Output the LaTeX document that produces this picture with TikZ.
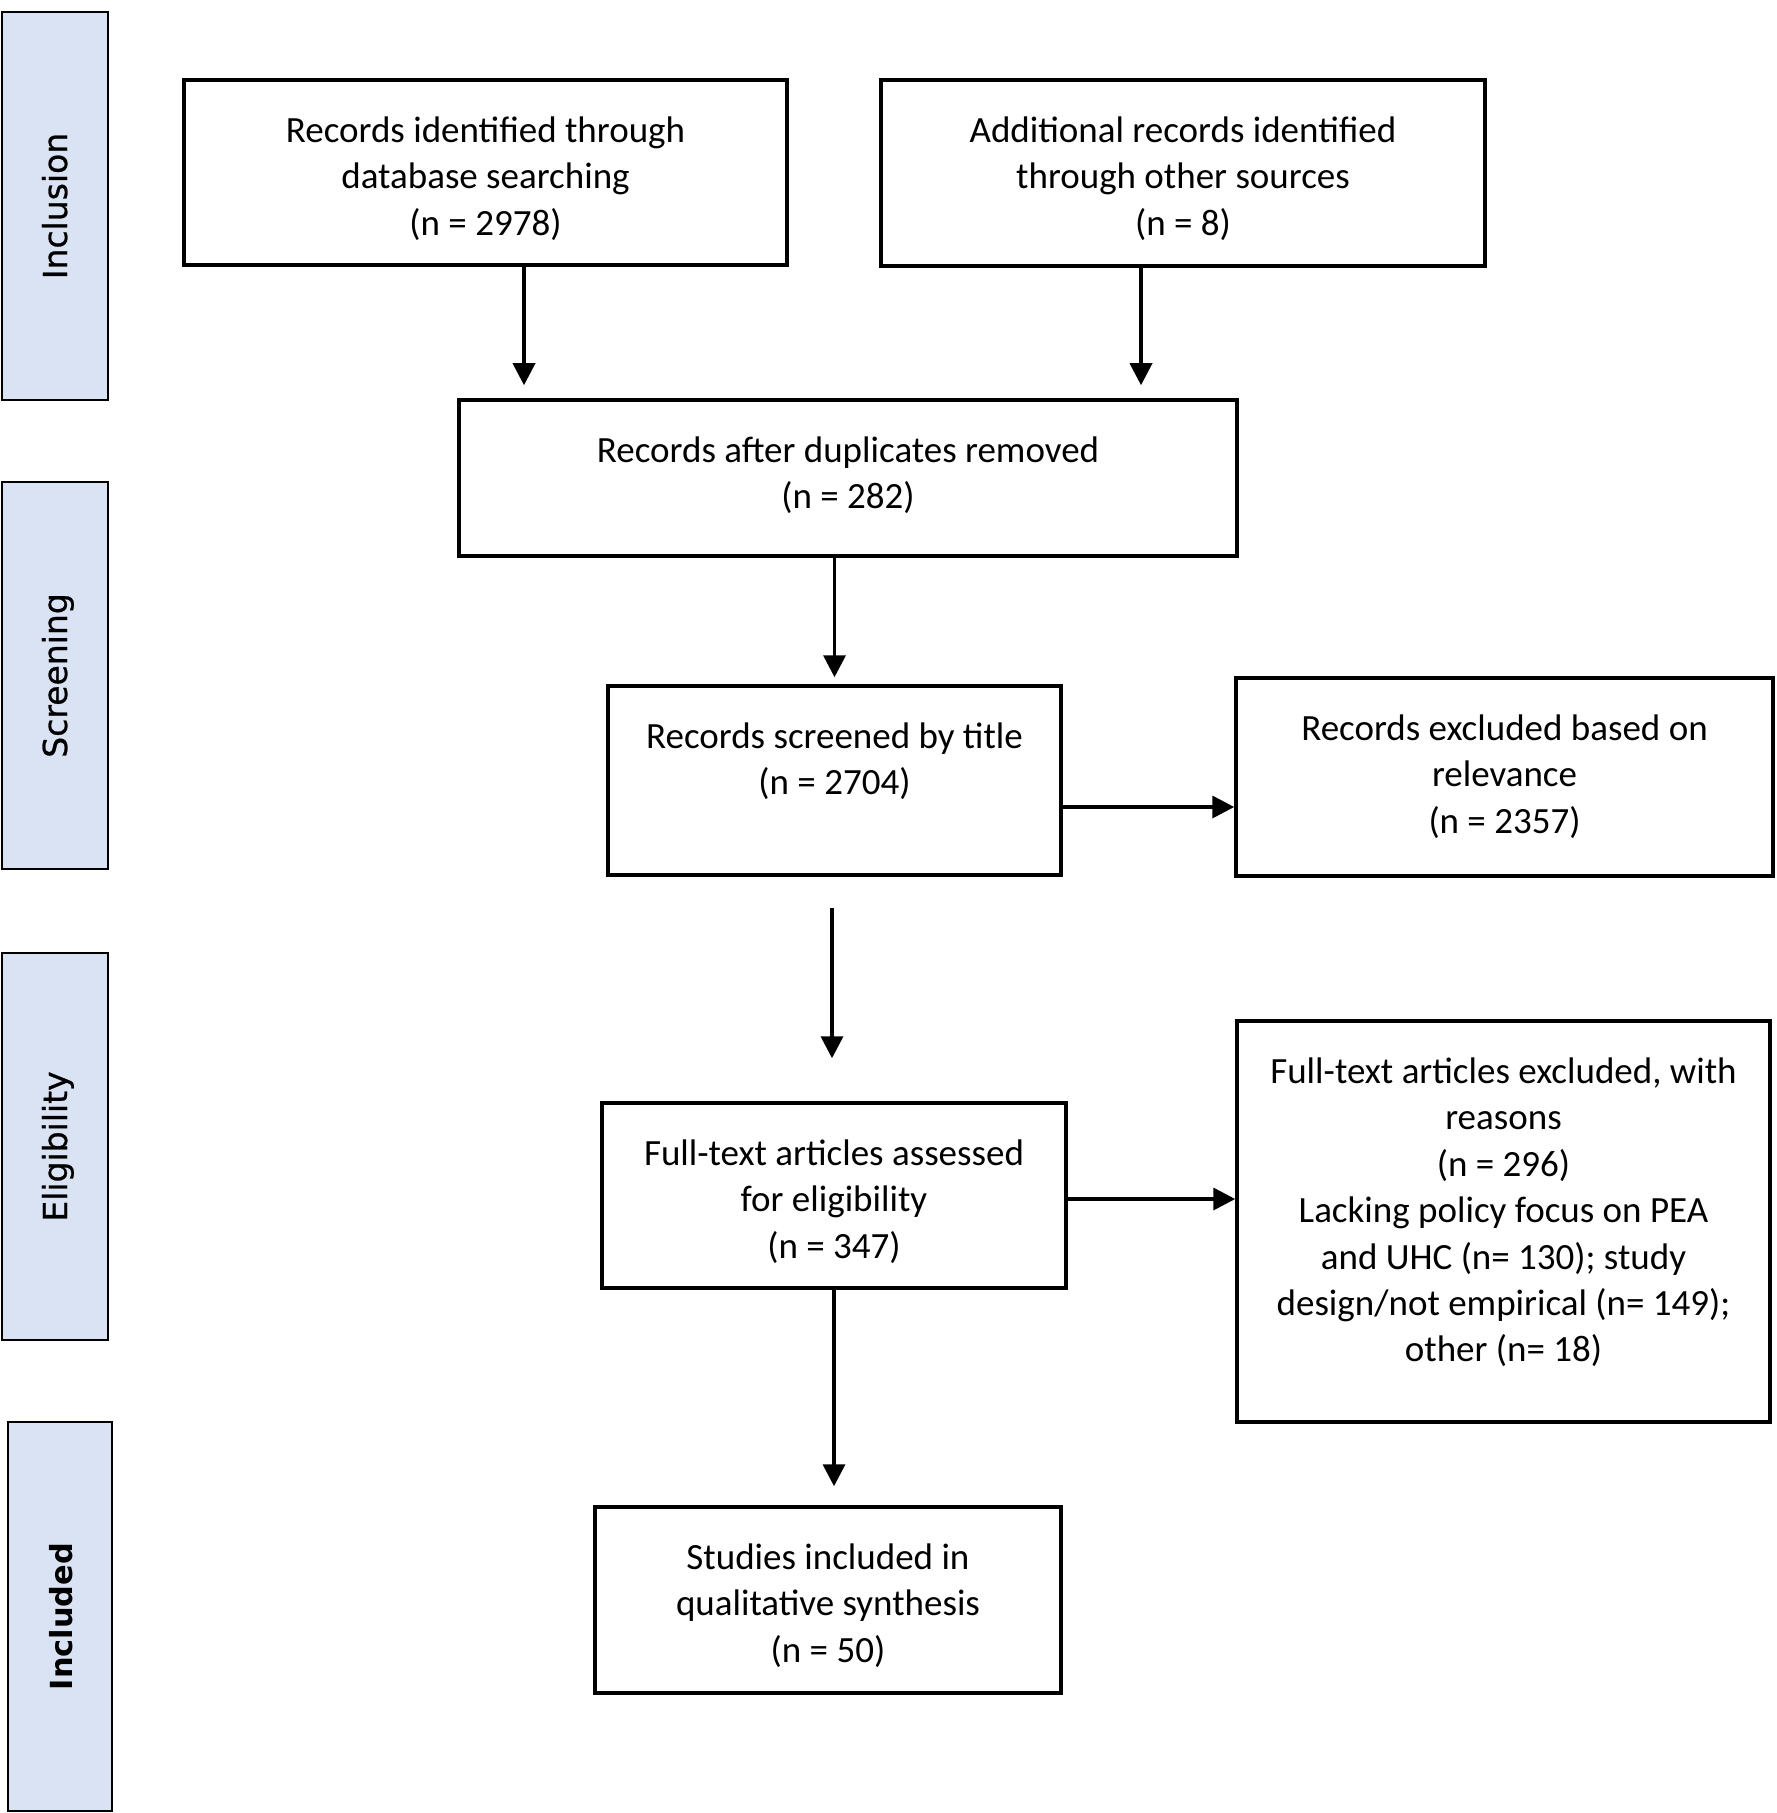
\documentclass[tikz,border=0pt]{standalone}
\usepackage{fontspec}
\usetikzlibrary{arrows.meta,calc}
\newfontfamily\boxfont{Carlito}
\newfontfamily\sidefont[FakeBold=0.8]{DejaVu Sans}
\newfontfamily\sideboldfont{DejaVu Sans Bold}
\definecolor{sidefill}{RGB}{218,227,243}
\newcommand\tstrut{\rule{0pt}{15pt}}
\begin{document}
\begin{tikzpicture}[x=0.5pt,y=-0.5pt,
  box/.style={draw=black, line width=1.75pt, rectangle, inner sep=0pt},
  side/.style={draw=black, line width=1.3pt, fill=sidefill, rectangle, inner sep=0pt},
  txt/.style={anchor=north, align=center, inner sep=0pt, font=\boxfont\fontsize{18.5}{23.2}\selectfont},
  lab/.style={rotate=90, inner sep=0pt, font=\sidefont\fontsize{16.5}{19}\selectfont, text height=12pt, text depth=0pt},
  arr/.style={line width=1.8pt, -{Triangle[width=11pt,length=11pt]}}
]
\useasboundingbox (0,0) rectangle (1776,1813);

% side phase boxes
\node[side, minimum width=53pt, minimum height=194pt] (s1) at (55,206) {};
\node[side, minimum width=53pt, minimum height=193.5pt] (s2) at (55,675.5) {};
\node[side, minimum width=53pt, minimum height=193.5pt] (s3) at (55,1146.5) {};
\node[side, minimum width=52pt, minimum height=194.5pt] (s4) at (60,1616.5) {};
\node[lab] (l1) at (s1.center) {Inclusion};
\node[lab] (l2) at (s2.center) {Screening};
\node[lab] (l3) at (s3.center) {Eligibility};
\node[lab, font=\sideboldfont\fontsize{15.2}{18}\selectfont] (l4) at (s4.center) {Included};

% flow boxes
\node[box, minimum width=301.5pt, minimum height=92.5pt] (b1) at (485.5,172.5) {};
\node[box, minimum width=302pt, minimum height=93pt] (b2) at (1183,173) {};
\node[box, minimum width=389pt, minimum height=78pt] (b3) at (848,478) {};
\node[box, minimum width=226.5pt, minimum height=94.5pt] (b4) at (834.5,780.5) {};
\node[box, minimum width=268.5pt, minimum height=99pt] (b5) at (1504.5,777) {};
\node[box, minimum width=232pt, minimum height=92.5pt] (b6) at (834,1195.5) {};
\node[box, minimum width=266.5pt, minimum height=200.5pt] (b7) at (1503.5,1221.5) {};
\node[box, minimum width=233pt, minimum height=93pt] (b8) at (828,1600) {};

% texts
\node[txt] (t1) at (485.5,112) {\tstrut Records identified through\\database searching\\(n = 2978)};
\node[txt] (t2) at (1183,112) {\tstrut Additional records identified\\through other sources\\(n = 8)};
\node[txt] (t3) at (848,432) {\tstrut Records after duplicates removed\\(n = 282)};
\node[txt] (t4) at (834.5,718) {\tstrut Records screened by title\\(n = 2704)};
\node[txt] (t5) at (1504.5,710) {\tstrut Records excluded based on\\relevance\\(n = 2357)};
\node[txt] (t6) at (834,1135) {\tstrut Full-text articles assessed\\for eligibility\\(n = 347)};
\node[txt] (t7) at (1503.5,1053) {\tstrut Full-text articles excluded, with\\reasons\\(n = 296)\\Lacking policy focus on PEA\\and UHC (n= 130); study\\design/not empirical (n= 149);\\other (n= 18)};
\node[txt] (t8) at (828,1539) {\tstrut Studies included in\\qualitative synthesis\\(n = 50)};

% helper coordinates
\coordinate (c1) at (524,0);
\coordinate (c2) at (1141,0);
\coordinate (r1) at (0,807);
\coordinate (r2) at (0,1199);
\coordinate (m1) at (832,0);

% connectors
\draw[arr, shorten >=6.5pt] (b1.south -| c1) -- (b3.north -| c1);
\draw[arr, shorten >=6.5pt] (b2.south -| c2) -- (b3.north -| c2);
\draw[arr, shorten >=3.5pt] (b3.south -| b4.north) -- (b4.north);
\draw[arr] (b4.east |- r1) -- (b5.west |- r1);
\draw[arr, shorten <=15.5pt, shorten >=21.5pt] (b4.south -| m1) -- (b6.north -| m1);
\draw[arr] (b6.east |- r2) -- (b7.west |- r2);
\draw[arr, shorten >=9.5pt] (b6.south) -- (b8.north -| b6.south);
\end{tikzpicture}
\end{document}
